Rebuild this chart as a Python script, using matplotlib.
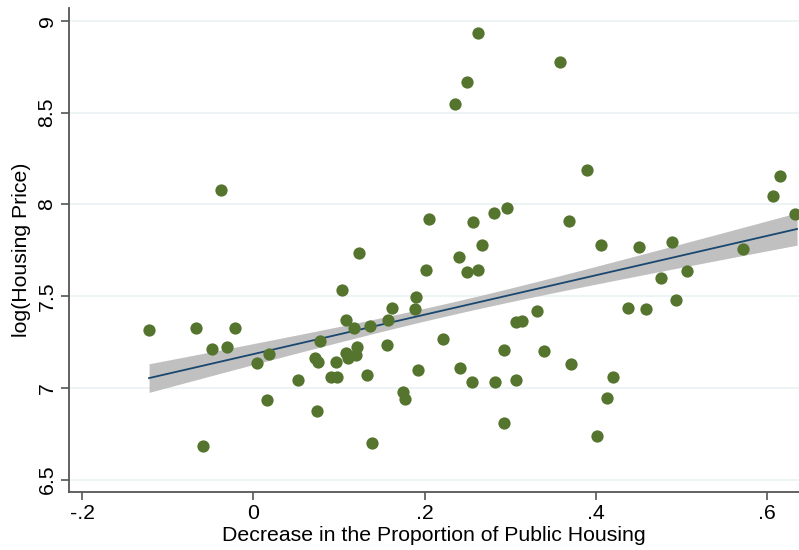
import numpy as np
import matplotlib
matplotlib.use('Agg')
from matplotlib import pyplot as plt

# decrease in share of public housing vs log housing price
decrease_share = [
    -0.122, -0.067, -0.022, -0.048, -0.031, 0.004, 0.018, 0.052, 0.016, -0.059,
    -0.038, 0.103, 0.190, 0.162, 0.189, 0.108, 0.157, 0.117, 0.136, 0.078,
    0.221, 0.156, 0.121, 0.108, 0.120, 0.110, 0.072, 0.075, 0.096, 0.091,
    0.098, 0.133, 0.192, 0.241, 0.175, 0.177, 0.074, 0.139, 0.255, 0.282,
    0.293, 0.293, 0.307, 0.314, 0.307, 0.201, 0.249, 0.262, 0.240, 0.267,
    0.123, 0.205, 0.257, 0.281, 0.296, 0.369, 0.262, 0.249, 0.235, 0.358,
    0.390, 0.406, 0.450, 0.489, 0.572, 0.615, 0.607, 0.633, 0.506, 0.476,
    0.331, 0.339, 0.371, 0.420, 0.413, 0.401, 0.438, 0.459, 0.494,
]
log_price = [
    7.315, 7.326, 7.326, 7.212, 7.222, 7.135, 7.184, 7.043, 6.933, 6.683,
    8.079, 7.533, 7.495, 7.435, 7.430, 7.370, 7.370, 7.326, 7.337, 7.255,
    7.266, 7.233, 7.222, 7.190, 7.179, 7.162, 7.162, 7.141, 7.141, 7.059,
    7.059, 7.070, 7.097, 7.108, 6.977, 6.939, 6.873, 6.699, 7.032, 7.032,
    7.206, 6.808, 7.359, 7.364, 7.043, 7.642, 7.631, 7.642, 7.713, 7.779,
    7.735, 7.920, 7.904, 7.953, 7.980, 7.909, 8.935, 8.667, 8.547, 8.776,
    8.188, 7.779, 7.768, 7.795, 7.757, 8.155, 8.046, 7.948, 7.637, 7.599,
    7.419, 7.201, 7.130, 7.059, 6.944, 6.737, 7.435, 7.430, 7.479,
]

# linear fit (end points) and half-width of its 95% band at the left end
fit_x = [-0.122, 0.635]
fit_y = [7.053, 7.866]
band_half_left = 0.078

x_ticks = [-0.2, 0, 0.2, 0.4, 0.6]
x_tick_labels = ['-.2', '0', '.2', '.4', '.6']
y_ticks = [6.5, 7, 7.5, 8, 8.5, 9]
y_tick_labels = ['6.5', '7', '7.5', '8', '8.5', '9']

x = np.array(decrease_share)
y = np.array(log_price)

xg = np.linspace(fit_x[0], fit_x[1], 200)
yg = np.interp(xg, fit_x, fit_y)
# band follows the usual sqrt(1/n + (x-xbar)^2/Sxx) shape
n = len(x)
shape = np.sqrt(1.0 / n + (xg - x.mean()) ** 2 / np.sum((x - x.mean()) ** 2))
half = band_half_left * shape / shape[0]
lo = yg - half
hi = yg + half

plt.rcParams['font.family'] = ['Liberation Sans', 'DejaVu Sans']
fs = 15.3

fig = plt.figure(figsize=(7.99, 5.50), dpi=100)
ax = fig.add_axes([0.0864, 0.1055, 0.9136, 0.88])

for v in y_ticks:
    ax.axhline(v, color='#eaf2f3', linewidth=1.2, zorder=0)

ax.fill_between(xg, lo, hi, color='#c0c0c0', linewidth=0, zorder=1)
ax.plot(xg, yg, color='#1a476f', linewidth=1.3, zorder=2)
ax.scatter(x, y, s=78, color='#55752f', linewidths=0, zorder=3)

ax.set_xlim(-0.2155, 0.6373)
ax.set_ylim(6.432, 9.071)

ax.set_xticks(x_ticks)
ax.set_xticklabels(x_tick_labels, fontsize=fs)
ax.set_yticks(y_ticks)
ax.set_yticklabels(y_tick_labels, fontsize=fs, rotation=90, va='center')
ax.tick_params(axis='both', direction='out', length=6, width=1.2, color='#555555', pad=3)

ax.set_xlabel('Decrease in the Proportion of Public Housing', fontsize=fs, labelpad=2)
ax.set_ylabel('log(Housing Price)', fontsize=fs, labelpad=5)

for side in ['top', 'right']:
    ax.spines[side].set_visible(False)
for side in ['left', 'bottom']:
    ax.spines[side].set_color('#555555')
    ax.spines[side].set_linewidth(1.3)

fig.savefig('out.png', dpi=100)
